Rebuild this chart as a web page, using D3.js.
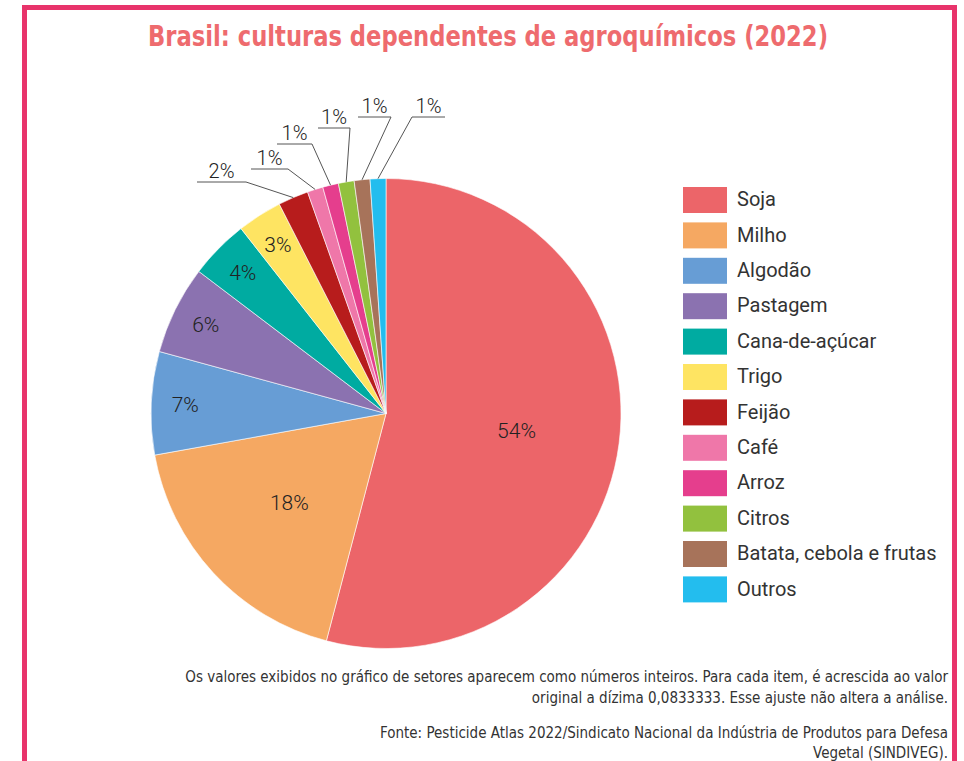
<!DOCTYPE html>
<html>
  <head>
    <meta charset="utf-8" />
    <title>Brasil: culturas dependentes de agroquímicos (2022)</title>
    <script src="https://d3js.org/d3.v7.min.js"></script>
    <style>
        body {
            margin:0;
            background:#fff;
        }
    </style>
  </head>
  <body>
    <svg id="viz"></svg>

    <script>
        // data
        var crops = ["Soja", "Milho", "Algodão", "Pastagem", "Cana-de-açúcar", "Trigo",
                     "Feijão", "Café", "Arroz", "Citros", "Batata, cebola e frutas", "Outros"];
        var shares = [54, 18, 7, 6, 4, 3, 2, 1, 1, 1, 1, 1];
        var adjust = 0.0833333; // added to every item, per the footnote
        var colors = ["#ec6569", "#f5a862", "#679dd5", "#8b72b0", "#00aba1", "#fee462",
                      "#b71c1c", "#ef77a9", "#e53e8d", "#92c13e", "#a7735a", "#23bdee"];

        var notes = [
            "Os valores exibidos no gráfico de setores aparecem como números inteiros. Para cada item, é acrescida ao valor",
            "original a dízima 0,0833333. Esse ajuste não altera a análise.",
            "Fonte: Pesticide Atlas 2022/Sindicato Nacional da Indústria de Produtos para Defesa",
            "Vegetal (SINDIVEG)."
        ];

        var width = 964, height = 761;

        var svg = d3.select("#viz")
            .attr("width", width)
            .attr("height", height);

        // pink frame (open at the bottom)
        svg.append("path")
            .attr("d", "M24.5,790 V7.5 H954.5 V790")
            .attr("fill", "none")
            .attr("stroke", "#e8336b")
            .attr("stroke-width", 5);

        svg.append("text")
            .attr("x", 488)
            .attr("y", 46)
            .attr("text-anchor", "middle")
            .attr("font-family", "'Liberation Sans Narrow', 'DejaVu Sans Condensed', sans-serif")
            .attr("font-weight", "bold")
            .attr("font-size", 28)
            .attr("textLength", 680)
            .attr("lengthAdjust", "spacingAndGlyphs")
            .attr("fill", "#ee6b6e")
            .text("Brasil: culturas dependentes de agroquímicos (2022)");

        var data = crops.map(function (c, i) {
            return {name: c, share: shares[i], value: shares[i] + adjust, color: colors[i]};
        });

        var cx = 386, cy = 413.5, r = 235;

        var pie = d3.pie()
            .sort(null)
            .value(function (d) { return d.value; });

        var arcs = pie(data);

        var arc = d3.arc().innerRadius(0).outerRadius(r);

        var g = svg.append("g")
            .attr("transform", "translate(" + cx + "," + cy + ")");

        g.selectAll("path")
            .data(arcs)
            .enter().append("path")
            .attr("d", arc)
            .attr("fill", function (d) { return d.data.color; })
            .attr("stroke", "#fff")
            .attr("stroke-width", 0.6);

        // labels inside the pie for the bigger slices
        var inside = arcs.filter(function (d) { return d.data.share >= 3; });
        g.selectAll("text.in")
            .data(inside)
            .enter().append("text")
            .attr("class", "in")
            .attr("transform", function (d) {
                var rr = d.data.share >= 10 ? r * 0.56 : r * 0.855;
                var a = (d.startAngle + d.endAngle) / 2;
                return "translate(" + (rr * Math.sin(a)) + "," + (-rr * Math.cos(a)) + ")";
            })
            .attr("text-anchor", "middle")
            .attr("dy", "0.36em")
            .attr("font-family", "Roboto, sans-serif")
            .attr("font-weight", 300)
            .attr("font-size", 21)
            .attr("fill", "#222")
            .text(function (d) { return d.data.share + "%"; });

        // callouts for the small slices: underline span and the end tied to the arc
        var callouts = [
            {i: 6,  y: 182, x0: 197, x1: 246, tie: "right"},
            {i: 7,  y: 169, x0: 251, x1: 288, tie: "right"},
            {i: 8,  y: 144, x0: 277, x1: 312, tie: "right"},
            {i: 9,  y: 128, x0: 318, x1: 350, tie: "right"},
            {i: 10, y: 117, x0: 358, x1: 391, tie: "right"},
            {i: 11, y: 117, x0: 412, x1: 445, tie: "left"}
        ];

        var co = svg.append("g");
        callouts.forEach(function (c) {
            var d = arcs[c.i];
            var a = (d.startAngle + d.endAngle) / 2;
            var px = cx + r * Math.sin(a), py = cy - r * Math.cos(a);
            var ex = c.tie === "right" ? c.x1 : c.x0;
            co.append("path")
                .attr("d", "M" + (c.tie === "right" ? c.x0 : c.x1) + "," + c.y +
                      " H" + ex + " L" + px + "," + py)
                .attr("fill", "none")
                .attr("stroke", "#555")
                .attr("stroke-width", 1);
            co.append("text")
                .attr("x", (c.x0 + c.x1) / 2)
                .attr("y", c.y - 4)
                .attr("text-anchor", "middle")
                .attr("font-family", "Roboto, sans-serif")
                .attr("font-weight", 300)
                .attr("font-size", 20)
                .attr("fill", "#222")
                .text(d.data.share + "%");
        });

        // legend
        var legend = svg.append("g")
            .attr("transform", "translate(683,187)");

        var rows = legend.selectAll("g")
            .data(data)
            .enter().append("g")
            .attr("transform", function (d, i) { return "translate(0," + (i * 35.4) + ")"; });

        rows.append("rect")
            .attr("width", 44)
            .attr("height", 26)
            .attr("fill", function (d) { return d.color; });

        rows.append("text")
            .attr("x", 54)
            .attr("y", 12)
            .attr("dy", "0.36em")
            .attr("font-family", "Roboto, sans-serif")
            .attr("font-size", 20)
            .attr("fill", "#333")
            .text(function (d) { return d.name; });

        // footnotes
        var noteY = [682, 703, 738, 758];
        svg.selectAll("text.note")
            .data(notes)
            .enter().append("text")
            .attr("class", "note")
            .attr("x", 948)
            .attr("y", function (d, i) { return noteY[i]; })
            .attr("text-anchor", "end")
            .attr("font-family", "'Liberation Sans Narrow', 'DejaVu Sans Condensed', sans-serif")
            .attr("font-size", 15)
            .attr("fill", "#333")
            .text(function (d) { return d; });
    </script>
  </body>
</html>
